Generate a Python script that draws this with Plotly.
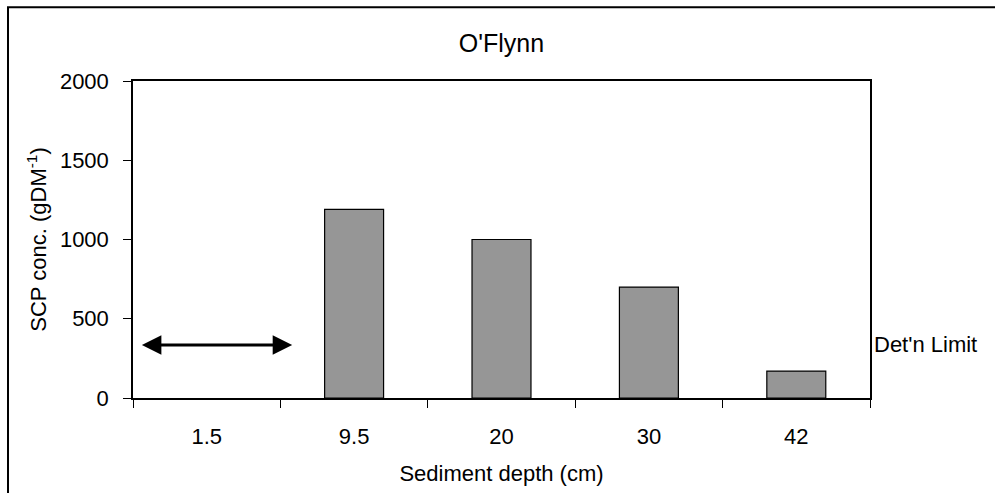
import plotly.graph_objects as go

depths = ["1.5", "9.5", "20", "30", "42"]
scp_conc = [0, 1190, 1000, 700, 170]
det_limit = 335
y_ticks = [0, 500, 1000, 1500, 2000]

FONT = "Liberation Sans, Arial, sans-serif"

fig = go.Figure()
fig.add_trace(go.Bar(
    x=depths, y=scp_conc,
    marker=dict(color="#969696",
                line=dict(color="black", width=[0 if v == 0 else 1.2 for v in scp_conc])),
    width=0.4,
    showlegend=False,
))

# double-headed detection-limit arrow across the first category
fig.add_annotation(
    x=0.58, y=det_limit, ax=-0.45, ay=det_limit,
    xref="x", yref="y", axref="x", ayref="y",
    showarrow=True, arrowhead=2, arrowside="end+start",
    arrowwidth=3, arrowsize=1.3, arrowcolor="black", text="",
)
fig.add_annotation(
    x=1.0, y=det_limit, xref="paper", yref="y",
    text="Det'n Limit", showarrow=False, xanchor="left", xshift=2,
    font=dict(family=FONT, size=22, color="black"),
)

# outer chart border
fig.add_shape(type="rect", xref="paper", yref="paper",
              x0=-0.1696, x1=1.3, y0=-0.5, y1=1.233,
              line=dict(color="black", width=2), fillcolor="rgba(0,0,0,0)",
              layer="below")

fig.update_layout(
    width=995, height=493,
    margin=dict(l=133, r=125, t=81, b=95, autoexpand=False),
    paper_bgcolor="white", plot_bgcolor="white",
    font=dict(family=FONT, size=22, color="black"),
    title=dict(text="O'Flynn", x=0.5, xref="paper", y=1 - 43 / 493,
               yref="container", yanchor="middle", xanchor="center",
               font=dict(family=FONT, size=25, color="black")),
    bargap=0.6,
)
fig.update_xaxes(
    type="category", range=[-0.5, len(depths) - 0.5],
    tickson="boundaries", ticks="outside", ticklen=8,
    tickcolor="black", tickwidth=1.2, automargin=False,
    showline=True, linecolor="black", linewidth=1.5, mirror=True,
    showgrid=False, ticklabelstandoff=18,
    title=dict(text="Sediment depth (cm)", standoff=17,
               font=dict(family=FONT, size=22)),
    tickfont=dict(family=FONT, size=22),
)
fig.update_yaxes(
    range=[0, 2000], tickvals=y_ticks, ticks="outside", ticklen=8,
    tickcolor="black", tickwidth=1.2, automargin=False,
    showline=True, linecolor="black", linewidth=1.5, mirror=True,
    showgrid=False, zeroline=False, ticklabelstandoff=10,
    title=dict(text="SCP conc. (gDM<sup>-1</sup>)", standoff=7,
               font=dict(family=FONT, size=22)),
    tickfont=dict(family=FONT, size=22),
)

fig.write_html("out.html")
